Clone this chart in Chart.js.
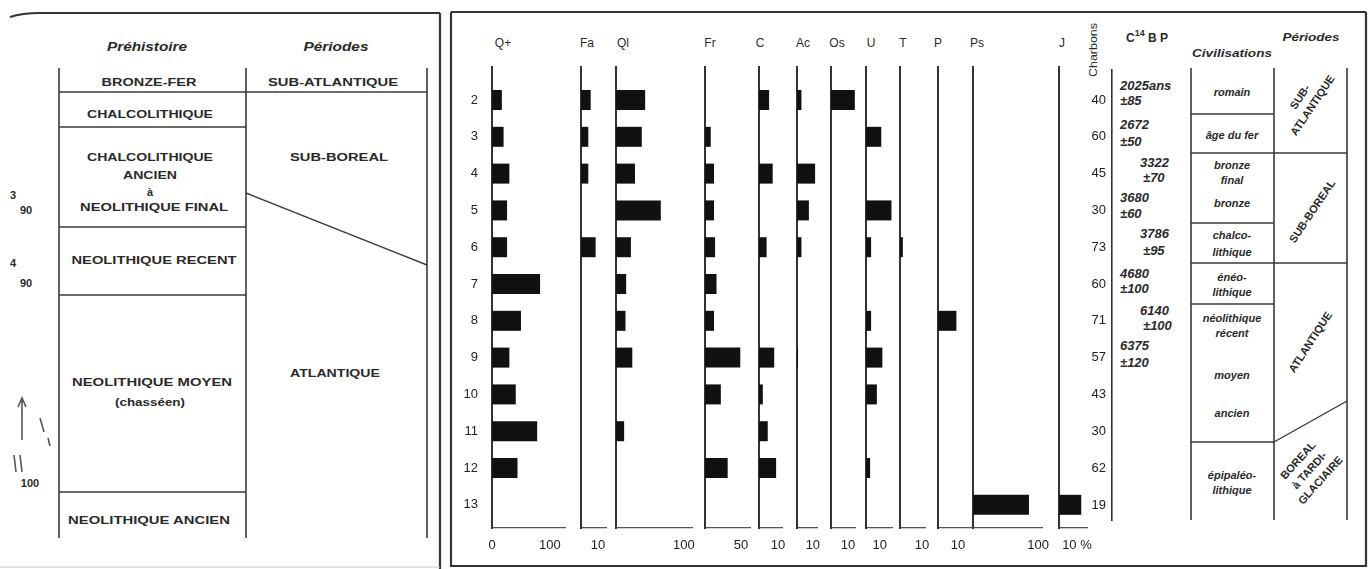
<!DOCTYPE html>
<html>
<head>
<meta charset="utf-8">
<title>Diagramme anthracologique</title>
<script src="https://cdn.jsdelivr.net/npm/chart.js@4.4.1/dist/chart.umd.min.js"></script>
<style>
  body { margin: 0; background: #fff; }
  #page { position: relative; width: 1370px; height: 569px; overflow: hidden; background: #fff; }
  #page svg, #page canvas { position: absolute; left: 0; top: 0; }
</style>
</head>
<body>
<div id="page"><svg id="sheet" width="1370" height="569"></svg></div>
<script>
// niveaux du diagramme
const levels = [2, 3, 4, 5, 6, 7, 8, 9, 10, 11, 12, 13];
// nombre de charbons par niveau
const charbons = [40, 60, 45, 30, 73, 60, 71, 57, 43, 30, 62, 19];

// taxons et pourcentages par niveau
const taxa  = ['Q+', 'Fa', 'Ql', 'Fr', 'C', 'Ac', 'Os', 'U', 'T', 'P', 'Ps', 'J'];
const qPlus = [17, 20, 30, 26, 26, 83, 50, 30, 41, 78, 44, 0];
const fa    = [5.7, 4.3, 4.3, 0, 8.6, 0, 0, 0, 0, 0, 0, 0];
const ql    = [43, 38, 28, 66, 22, 15, 14, 24, 0, 12, 0, 0];
const fr    = [0, 8, 12.5, 12.5, 14, 16, 12.5, 49, 22, 0, 31.5, 0];
const c     = [5.3, 0, 7.2, 0, 4, 0, 0, 8, 2, 4.6, 9, 0];
const ac    = [2.8, 0, 11.4, 7.5, 2.8, 0, 0, 0.6, 0, 0, 0, 0];
const os    = [14.1, 0, 0, 0, 0, 0, 0, 0, 0, 0, 0, 0];
const u     = [0, 11.1, 0, 18.5, 3.7, 0, 3.7, 11.9, 7.9, 0, 3, 0];
const t     = [0, 0, 0, 0, 1.3, 0, 0, 0, 0, 0, 0, 0];
const p     = [0, 0, 0, 0, 0, 0, 9.2, 0, 0, 0, 0, 0];
const ps    = [0, 0, 0, 0, 0, 0, 0, 0, 0, 0, 0, 86];
const j     = [0, 0, 0, 0, 0, 0, 0, 0, 0, 0, 0, 12.4];
const series = [qPlus, fa, ql, fr, c, ac, os, u, t, p, ps, j];

// graduations de chaque colonne
const axisMax    = [126, 14.7, 112, 62.5, 12.1, 12.6, 14.2, 18.9, 11.4, 16.5, 106, 15.6];
const tickValues = [[0, 100], [10], [100], [50], [10], [10], [10], [10], [10], [10], [100], [10]];
const tickSuffix = ['', '', '', '', '', '', '', '', '', '', '', ' %'];

// dates C14 et civilisations
const c14Dates = [
    ['2025ans', '±85'], ['2672', '±50'], ['3322', '±70'], ['3680', '±60'],
    ['3786', '±95'], ['4680', '±100'], ['6140', '±100'], ['6375', '±120']
];
const civilisations = ['romain', 'âge du fer', 'bronze', 'final', 'bronze', 'chalco-', 'lithique',
    'énéo-', 'lithique', 'néolithique', 'récent', 'moyen', 'ancien', 'épipaléo-', 'lithique'];

// --- mise en page (pixels) ---
const W = 1370, H = 569;
const colLeft  = [492, 581, 616, 705, 759, 797, 831, 866, 900, 938, 973, 1059];
const colRight = [565, 606, 692, 750, 782, 817, 855, 892, 925, 971, 1042, 1087];
const plotTop = 67, plotBottom = 528, xAxisH = 26;
const rowMin = 1.103, rowMax = 13.63;

Chart.defaults.font.family = '"Liberation Sans", Arial, sans-serif';
Chart.defaults.color = '#222';

const page = document.getElementById('page');
function makeCanvas() {
    const cv = document.createElement('canvas');
    cv.width = W; cv.height = H;
    page.appendChild(cv);
    return cv;
}

// une colonne = un petit diagramme en barres horizontales
taxa.forEach((name, i) => {
    const first = i === 0;
    const yW = first ? 30 : 0;
    new Chart(makeCanvas(), {
        type: 'bar',
        data: {
            datasets: [{
                label: name,
                data: levels.map((lv, k) => ({ x: series[i][k] || null, y: lv })),
                backgroundColor: '#111',
                borderWidth: 0,
                barThickness: 20,
                inflateAmount: 0,
                clip: false
            }]
        },
        options: {
            indexAxis: 'y',
            responsive: false,
            animation: false,
            events: [],
            layout: { padding: { left: colLeft[i] - yW, right: W - colRight[i], top: plotTop, bottom: H - plotBottom - xAxisH } },
            plugins: { legend: { display: false }, tooltip: { enabled: false } },
            scales: {
                x: {
                    type: 'linear', min: 0, max: axisMax[i],
                    afterBuildTicks: s => { s.ticks = tickValues[i].map(v => ({ value: v })); },
                    afterFit: s => { s.height = xAxisH; },
                    grid: { display: false, drawTicks: false },
                    border: { color: '#555', width: 1.3 },
                    ticks: {
                        padding: 10, autoSkip: false, maxRotation: 0,
                        font: { size: 13 }, color: '#222',
                        callback: v => v + tickSuffix[i]
                    }
                },
                y: {
                    type: 'linear', reverse: true, offset: false, min: rowMin, max: rowMax,
                    afterBuildTicks: s => { s.ticks = levels.map(v => ({ value: v })); },
                    afterFit: s => { s.width = yW; },
                    grid: { display: false, drawTicks: false },
                    border: { color: '#333', width: 2 },
                    ticks: { display: first, padding: 14, font: { size: 13 }, color: '#222', autoSkip: false }
                }
            }
        }
    });
});

// axe des charbons
new Chart(makeCanvas(), {
    type: 'bar',
    data: { datasets: [] },
    options: {
        responsive: false,
        animation: false,
        events: [],
        layout: { padding: { left: 1112 - 40, right: W - 1200, top: 70, bottom: H - 520 } },
        plugins: { legend: { display: false }, tooltip: { enabled: false } },
        scales: {
            x: { type: 'linear', min: 0, max: 1, display: false },
            y: {
                type: 'linear', reverse: true, offset: false, min: 1.185, max: 13.408,
                afterBuildTicks: s => { s.ticks = levels.map(v => ({ value: v })); },
                afterFit: s => { s.width = 40; },
                grid: { display: false, drawTicks: false },
                border: { color: '#333', width: 1.6 },
                ticks: {
                    padding: 6, font: { size: 13 }, color: '#222', autoSkip: false,
                    callback: v => charbons[levels.indexOf(v)]
                }
            }
        }
    }
});

// --- cadre, tableaux et textes ---
const F = '&quot;Liberation Sans&quot;, Arial, sans-serif';
let s = '';
function ln(x1, y1, x2, y2, w = 1.6, col = '#3a3a3a') {
    s += `<line x1="${x1}" y1="${y1}" x2="${x2}" y2="${y2}" stroke="${col}" stroke-width="${w}"/>`;
}
function tx(str, x, y, o = {}) {
    const len = o.len ? ` textLength="${o.len}" lengthAdjust="spacingAndGlyphs"` : '';
    s += `<text x="${x}" y="${y}" font-family="${F}" font-size="${o.size || 11}" font-weight="${o.weight || 'bold'}"` +
        ` font-style="${o.italic ? 'italic' : 'normal'}" fill="${o.fill || '#2a2a2a'}" text-anchor="${o.anchor || 'middle'}"` +
        ` dominant-baseline="central"${len}>${str}</text>`;
}

// cadres
s += '<path d="M10,17 Q22,13 40,13 L440,13" fill="none" stroke="#333" stroke-width="2"/>';
ln(440, 13, 440, 569, 2.2, '#333');
ln(0, 567, 440, 567, 1, '#c8c8c8');
ln(451, 12, 1366, 12, 2, '#333');
ln(451, 12, 451, 567, 2.2, '#333');
ln(451, 566, 1366, 566, 2, '#333');
ln(1366, 12, 1366, 567, 2.2, '#333');

// tableau de gauche
tx('Préhistoire', 147, 47, { italic: true, size: 12, len: 80 });
tx('Périodes', 336, 47, { italic: true, size: 12, len: 65 });
[59, 246, 427].forEach(x => ln(x, 68, x, 538));
ln(59, 92, 427, 92);
[127, 227, 295, 492].forEach(y => ln(59, y, 246, y));
ln(246, 193, 427, 265, 1.4);
const leftTexts = [
    ['BRONZE-FER', 149, 82, 95], ['SUB-ATLANTIQUE', 333, 82, 130],
    ['CHALCOLITHIQUE', 150, 114, 126],
    ['CHALCOLITHIQUE', 150, 157, 126], ['ANCIEN', 150, 175, 54], ['à', 150, 192, 0],
    ['NEOLITHIQUE FINAL', 154, 207, 148], ['SUB-BOREAL', 339, 157, 98],
    ['NEOLITHIQUE RECENT', 154, 260, 165],
    ['NEOLITHIQUE MOYEN', 152, 382, 160], ['(chasséen)', 150, 402, 70],
    ['ATLANTIQUE', 335, 373, 90], ['NEOLITHIQUE ANCIEN', 149, 520, 162]
];
leftTexts.forEach(([str, x, y, len]) => tx(str, x, y, { size: 11, len: len || null }));

// notes manuscrites de la marge
tx('3', 13, 195, { size: 11 }); tx('90', 26, 210, { size: 11 });
tx('4', 13, 263, { size: 11 }); tx('90', 26, 283, { size: 11 });
tx('100', 30, 483, { size: 11 });
s += '<path d="M22,400 L22,440 M18,407 L22,398 L26,407 M40,418 L44,432 M48,438 L50,446 M14,455 L16,472 M20,455 L22,472" fill="none" stroke="#555" stroke-width="1.6"/>';

// en-têtes des colonnes
const headX = [503, 587, 623, 710, 760, 803, 837, 871, 903, 938, 977, 1062];
taxa.forEach((name, i) => tx(name, headX[i], 43, { size: 12, weight: 'normal' }));

// charbons, C14
s += `<text transform="translate(1093,50) rotate(-90)" font-family="${F}" font-size="11" fill="#2a2a2a" text-anchor="middle" dominant-baseline="central" textLength="54" lengthAdjust="spacingAndGlyphs">Charbons</text>`;
s += `<text x="1126" y="38" font-family="${F}" font-size="12" font-weight="bold" fill="#2a2a2a" dominant-baseline="central">C<tspan dy="-5" font-size="9">14</tspan><tspan dy="5"> B P</tspan></text>`;
const c14Pos = [[1120, 85, 100], [1120, 124, 141], [1140, 162, 177], [1120, 197, 213],
    [1140, 233, 250], [1120, 273, 288], [1140, 310, 325], [1120, 345, 362]];
c14Dates.forEach(([d, e], k) => {
    const [x, y1, y2] = c14Pos[k];
    tx(d, x, y1, { size: 13, italic: true, anchor: 'start' });
    tx(e, x + (x > 1130 ? 3 : 0), y2, { size: 13, italic: true, anchor: 'start' });
});

// civilisations
tx('Civilisations', 1232, 53, { size: 11, italic: true, len: 80 });
ln(1191, 68, 1191, 520); ln(1274, 68, 1274, 520); ln(1347, 68, 1347, 520);
[114, 223, 304, 442].forEach(y => ln(1191, y, 1274, y));
ln(1191, 153, 1347, 153); ln(1191, 263, 1347, 263);
ln(1274, 442, 1347, 401, 1.4);
const civY = [92, 135, 165, 180, 203, 235, 252, 277, 292, 318, 333, 375, 413, 475, 490];
civilisations.forEach((str, k) => tx(str, 1232, civY[k], { size: 11, italic: true }));

// périodes (texte oblique)
tx('Périodes', 1311, 37, { size: 11, italic: true, len: 57 });
function rotBlock(lines, cx, cy, ang, gap) {
    s += `<g transform="rotate(${ang} ${cx} ${cy})">`;
    lines.forEach((str, k) => tx(str, cx, cy + (k - (lines.length - 1) / 2) * gap, { size: 11 }));
    s += '</g>';
}
rotBlock(['SUB-', 'ATLANTIQUE'], 1306, 101, -56, 15);
rotBlock(['SUB-BOREAL'], 1312, 211, -56, 0);
rotBlock(['ATLANTIQUE'], 1310, 342, -57, 0);
rotBlock(['BOREAL', 'à TARDI-', 'GLACIAIRE'], 1309, 470, -48, 15);

document.getElementById('sheet').innerHTML = s;
</script>
</body>
</html>
